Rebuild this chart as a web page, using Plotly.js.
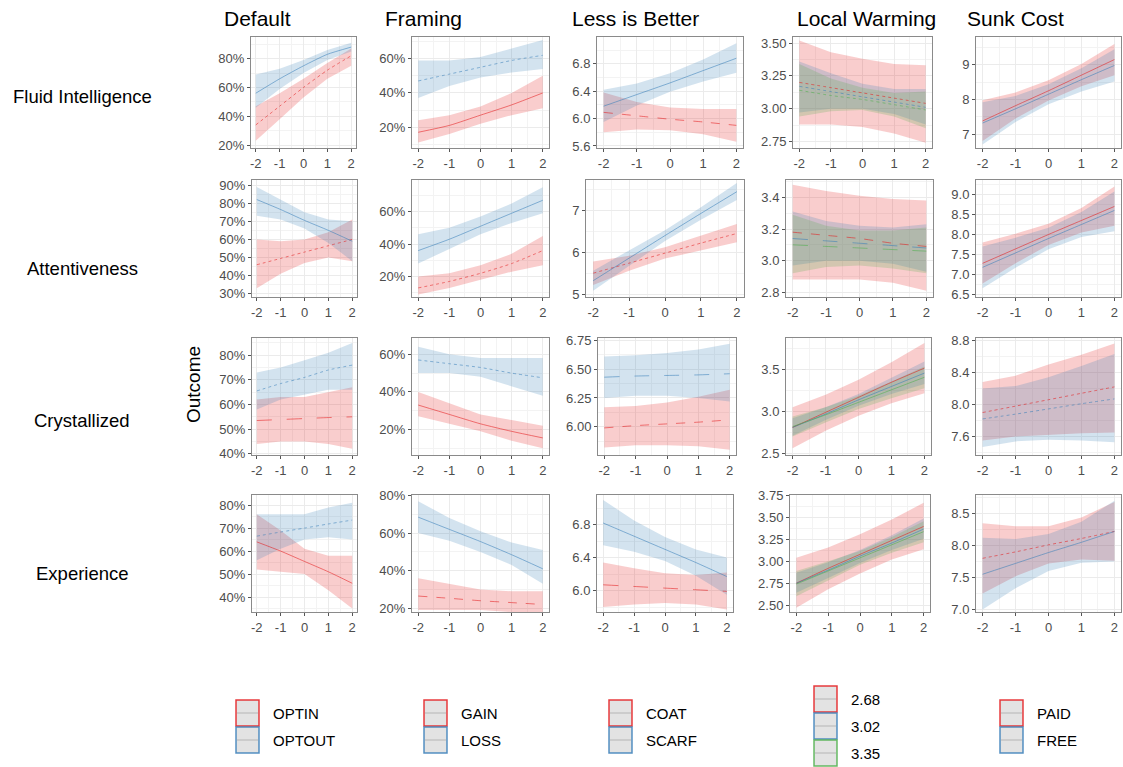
<!DOCTYPE html>
<html><head><meta charset="utf-8">
<script src="https://cdn.plot.ly/plotly-3.0.1.min.js"></script>
<style>body{margin:0;background:#fff}#chart{width:1123px;height:767px}</style>
</head><body><div id="chart"></div>
<script>
const W = 1123, H = 767;
const xvals = [-2, -1, 0, 1, 2];
const xTickText = ['-2', '-1', '0', '1', '2'];
const columns = ['Default', 'Framing', 'Less is Better', 'Local Warming', 'Sunk Cost'];
const rowNames = ['Fluid Intelligence', 'Attentiveness', 'Crystallized', 'Experience'];
const yTitle = 'Outcome';
const groupsDefault = ['OPTIN', 'OPTOUT'];
const groupsFraming = ['GAIN', 'LOSS'];
const groupsLess = ['COAT', 'SCARF'];
const groupsLocal = ['2.68', '3.02', '3.35'];
const groupsSunk = ['PAID', 'FREE'];

// ---- Fluid Intelligence ----
const fi_def_optin    = [0.34, 0.47, 0.60, 0.72, 0.82];
const fi_def_optin_lo = [0.23, 0.38, 0.53, 0.66, 0.75];
const fi_def_optin_hi = [0.47, 0.56, 0.66, 0.77, 0.87];
const fi_def_optout    = [0.56, 0.66, 0.75, 0.83, 0.88];
const fi_def_optout_lo = [0.46, 0.59, 0.70, 0.79, 0.85];
const fi_def_optout_hi = [0.69, 0.73, 0.79, 0.86, 0.91];

const fi_fra_gain    = [0.17, 0.21, 0.27, 0.33, 0.40];
const fi_fra_gain_lo = [0.11, 0.16, 0.22, 0.27, 0.31];
const fi_fra_gain_hi = [0.24, 0.27, 0.32, 0.40, 0.50];
const fi_fra_loss    = [0.47, 0.51, 0.55, 0.59, 0.62];
const fi_fra_loss_lo = [0.37, 0.44, 0.49, 0.52, 0.54];
const fi_fra_loss_hi = [0.59, 0.59, 0.61, 0.66, 0.71];

const fi_les_coat    = [6.09, 6.04, 5.99, 5.95, 5.90];
const fi_les_coat_lo = [5.80, 5.84, 5.83, 5.77, 5.66];
const fi_les_coat_hi = [6.38, 6.24, 6.16, 6.14, 6.14];
const fi_les_scarf    = [6.18, 6.35, 6.52, 6.70, 6.88];
const fi_les_scarf_lo = [5.95, 6.19, 6.39, 6.54, 6.67];
const fi_les_scarf_hi = [6.42, 6.51, 6.66, 6.86, 7.10];

const fi_loc_268    = [3.20, 3.16, 3.12, 3.08, 3.04];
const fi_loc_268_lo = [2.88, 2.88, 2.86, 2.81, 2.74];
const fi_loc_268_hi = [3.52, 3.43, 3.38, 3.34, 3.33];
const fi_loc_302    = [3.17, 3.13, 3.09, 3.05, 3.01];
const fi_loc_302_lo = [2.97, 3.00, 3.00, 2.96, 2.88];
const fi_loc_302_hi = [3.36, 3.27, 3.19, 3.15, 3.15];
const fi_loc_335    = [3.14, 3.10, 3.07, 3.03, 2.99];
const fi_loc_335_lo = [2.94, 2.98, 2.99, 2.94, 2.85];
const fi_loc_335_hi = [3.34, 3.23, 3.16, 3.12, 3.13];

const fi_sun_paid    = [7.38, 7.82, 8.25, 8.70, 9.15];
const fi_sun_paid_lo = [6.80, 7.45, 7.97, 8.38, 8.70];
const fi_sun_paid_hi = [7.98, 8.20, 8.55, 9.02, 9.60];
const fi_sun_free    = [7.32, 7.73, 8.15, 8.57, 8.98];
const fi_sun_free_lo = [6.70, 7.35, 7.86, 8.23, 8.52];
const fi_sun_free_hi = [7.92, 8.10, 8.44, 8.90, 9.45];

// ---- Attentiveness ----
const at_def_optin    = [0.46, 0.495, 0.53, 0.565, 0.60];
const at_def_optin_lo = [0.33, 0.41, 0.47, 0.50, 0.48];
const at_def_optin_hi = [0.60, 0.59, 0.60, 0.64, 0.71];
const at_def_optout    = [0.82, 0.765, 0.705, 0.65, 0.59];
const at_def_optout_lo = [0.73, 0.71, 0.66, 0.58, 0.48];
const at_def_optout_hi = [0.89, 0.82, 0.75, 0.71, 0.70];

const at_fra_gain    = [0.13, 0.17, 0.22, 0.28, 0.36];
const at_fra_gain_lo = [0.09, 0.13, 0.18, 0.23, 0.27];
const at_fra_gain_hi = [0.20, 0.22, 0.27, 0.34, 0.45];
const at_fra_loss    = [0.36, 0.43, 0.51, 0.59, 0.67];
const at_fra_loss_lo = [0.28, 0.37, 0.46, 0.53, 0.59];
const at_fra_loss_hi = [0.46, 0.50, 0.57, 0.65, 0.75];

const at_les_coat    = [5.50, 5.74, 5.98, 6.22, 6.45];
const at_les_coat_lo = [5.22, 5.56, 5.85, 6.05, 6.24];
const at_les_coat_hi = [5.78, 5.92, 6.12, 6.40, 6.68];
const at_les_scarf    = [5.32, 5.86, 6.40, 6.93, 7.45];
const at_les_scarf_lo = [5.08, 5.67, 6.27, 6.78, 7.25];
const at_les_scarf_hi = [5.56, 6.04, 6.53, 7.08, 7.66];

const at_loc_268    = [3.18, 3.16, 3.14, 3.11, 3.09];
const at_loc_268_lo = [2.88, 2.88, 2.88, 2.86, 2.81];
const at_loc_268_hi = [3.48, 3.44, 3.41, 3.39, 3.38];
const at_loc_302    = [3.14, 3.125, 3.11, 3.095, 3.08];
const at_loc_302_lo = [2.97, 3.00, 3.00, 2.98, 2.93];
const at_loc_302_hi = [3.31, 3.25, 3.22, 3.21, 3.23];
const at_loc_335    = [3.10, 3.09, 3.08, 3.07, 3.06];
const at_loc_335_lo = [2.92, 2.96, 2.97, 2.95, 2.92];
const at_loc_335_hi = [3.29, 3.22, 3.19, 3.19, 3.21];

const at_sun_paid    = [7.28, 7.64, 8.00, 8.35, 8.70];
const at_sun_paid_lo = [6.78, 7.28, 7.74, 8.05, 8.22];
const at_sun_paid_hi = [7.80, 8.02, 8.27, 8.66, 9.20];
const at_sun_free    = [7.18, 7.54, 7.90, 8.25, 8.60];
const at_sun_free_lo = [6.66, 7.17, 7.63, 7.94, 8.08];
const at_sun_free_hi = [7.70, 7.92, 8.17, 8.56, 9.07];

// ---- Crystallized ----
const cr_def_optin    = [0.535, 0.539, 0.543, 0.547, 0.55];
const cr_def_optin_lo = [0.44, 0.45, 0.45, 0.44, 0.42];
const cr_def_optin_hi = [0.62, 0.63, 0.63, 0.65, 0.67];
const cr_def_optout    = [0.655, 0.685, 0.71, 0.74, 0.76];
const cr_def_optout_lo = [0.58, 0.62, 0.64, 0.66, 0.66];
const cr_def_optout_hi = [0.73, 0.75, 0.78, 0.81, 0.85];

const cr_fra_gain    = [0.33, 0.28, 0.23, 0.19, 0.155];
const cr_fra_gain_lo = [0.27, 0.23, 0.19, 0.14, 0.10];
const cr_fra_gain_hi = [0.40, 0.34, 0.28, 0.25, 0.22];
const cr_fra_loss    = [0.57, 0.55, 0.53, 0.50, 0.475];
const cr_fra_loss_lo = [0.50, 0.50, 0.48, 0.43, 0.38];
const cr_fra_loss_hi = [0.64, 0.60, 0.58, 0.58, 0.58];

const cr_les_coat    = [5.99, 6.01, 6.025, 6.04, 6.06];
const cr_les_coat_lo = [5.82, 5.84, 5.84, 5.83, 5.80];
const cr_les_coat_hi = [6.17, 6.18, 6.21, 6.26, 6.32];
const cr_les_scarf    = [6.43, 6.44, 6.445, 6.45, 6.46];
const cr_les_scarf_lo = [6.25, 6.27, 6.27, 6.25, 6.22];
const cr_les_scarf_hi = [6.61, 6.62, 6.64, 6.67, 6.72];

const cr_loc_268    = [2.81, 2.99, 3.17, 3.35, 3.52];
const cr_loc_268_lo = [2.56, 2.77, 2.95, 3.10, 3.22];
const cr_loc_268_hi = [3.05, 3.20, 3.38, 3.59, 3.82];
const cr_loc_302    = [2.81, 2.97, 3.14, 3.30, 3.46];
const cr_loc_302_lo = [2.71, 2.90, 3.07, 3.21, 3.33];
const cr_loc_302_hi = [2.92, 3.05, 3.21, 3.40, 3.60];
const cr_loc_335    = [2.82, 2.96, 3.11, 3.26, 3.41];
const cr_loc_335_lo = [2.70, 2.87, 3.03, 3.16, 3.28];
const cr_loc_335_hi = [2.94, 3.05, 3.19, 3.36, 3.54];

const cr_sun_paid    = [7.90, 7.98, 8.06, 8.14, 8.22];
const cr_sun_paid_lo = [7.55, 7.60, 7.62, 7.64, 7.65];
const cr_sun_paid_hi = [8.28, 8.36, 8.50, 8.62, 8.76];
const cr_sun_free    = [7.82, 7.88, 7.945, 8.01, 8.07];
const cr_sun_free_lo = [7.47, 7.54, 7.56, 7.55, 7.53];
const cr_sun_free_hi = [8.20, 8.23, 8.34, 8.48, 8.63];

// ---- Experience ----
const ex_def_optin    = [0.64, 0.60, 0.555, 0.51, 0.46];
const ex_def_optin_lo = [0.52, 0.51, 0.50, 0.43, 0.35];
const ex_def_optin_hi = [0.76, 0.69, 0.61, 0.58, 0.58];
const ex_def_optout    = [0.665, 0.683, 0.70, 0.718, 0.735];
const ex_def_optout_lo = [0.56, 0.61, 0.65, 0.66, 0.65];
const ex_def_optout_hi = [0.76, 0.76, 0.76, 0.79, 0.81];

const ex_fra_gain    = [0.265, 0.253, 0.24, 0.23, 0.22];
const ex_fra_gain_lo = [0.19, 0.19, 0.19, 0.18, 0.16];
const ex_fra_gain_hi = [0.36, 0.33, 0.30, 0.29, 0.29];
const ex_fra_loss    = [0.685, 0.62, 0.555, 0.485, 0.41];
const ex_fra_loss_lo = [0.60, 0.56, 0.50, 0.43, 0.33];
const ex_fra_loss_hi = [0.77, 0.68, 0.61, 0.55, 0.51];

const ex_les_coat    = [6.07, 6.05, 6.03, 6.01, 5.99];
const ex_les_coat_lo = [5.80, 5.83, 5.85, 5.83, 5.77];
const ex_les_coat_hi = [6.34, 6.27, 6.21, 6.19, 6.22];
const ex_les_scarf    = [6.82, 6.66, 6.50, 6.34, 6.17];
const ex_les_scarf_lo = [6.55, 6.47, 6.36, 6.18, 5.95];
const ex_les_scarf_hi = [7.10, 6.85, 6.65, 6.50, 6.40];

const ex_loc_268    = [2.75, 2.92, 3.08, 3.24, 3.40];
const ex_loc_268_lo = [2.47, 2.68, 2.86, 3.02, 3.14];
const ex_loc_268_hi = [3.04, 3.16, 3.31, 3.48, 3.67];
const ex_loc_302    = [2.75, 2.90, 3.06, 3.21, 3.37];
const ex_loc_302_lo = [2.64, 2.81, 2.98, 3.13, 3.26];
const ex_loc_302_hi = [2.87, 2.99, 3.13, 3.30, 3.49];
const ex_loc_335    = [2.74, 2.89, 3.04, 3.19, 3.34];
const ex_loc_335_lo = [2.60, 2.78, 2.96, 3.10, 3.22];
const ex_loc_335_hi = [2.89, 3.00, 3.12, 3.28, 3.46];

const ex_sun_paid    = [7.80, 7.90, 8.01, 8.11, 8.22];
const ex_sun_paid_lo = [7.25, 7.52, 7.72, 7.78, 7.76];
const ex_sun_paid_hi = [8.35, 8.30, 8.30, 8.44, 8.68];
const ex_sun_free    = [7.55, 7.72, 7.89, 8.05, 8.22];
const ex_sun_free_lo = [7.00, 7.33, 7.60, 7.73, 7.75];
const ex_sun_free_hi = [8.12, 8.10, 8.18, 8.37, 8.70];

// ---------- styling / layout ----------
const COLORS = {red: [228, 26, 28], blue: [55, 126, 184], green: [77, 175, 74]};
const rgba = (c, a) => `rgba(${COLORS[c][0]},${COLORS[c][1]},${COLORS[c][2]},${a})`;
const S = (name, color, dash, m, lo, hi) => ({name, color, dash, m, lo, hi});

const rowBox = [[37, 148], [180, 297], [338, 455], [495, 612]];
const colBox = [
  [[251, 356], [412, 549], [597, 743], [793, 932], [976, 1121]],
  [[252, 357], [412, 549], [586, 744], [786, 933], [976, 1121]],
  [[252, 357], [412, 549], [598, 736], [786, 931], [976, 1121]],
  [[252, 357], [412, 549], [597, 733], [790, 930], [976, 1121]]
];

const panels = [
  // row 0
  {r:0,c:0, range:[0.18,0.95], tick0:0, dtick:0.2, fmt:'.0%', series:[
    S('OPTIN','red','dot',fi_def_optin,fi_def_optin_lo,fi_def_optin_hi),
    S('OPTOUT','blue','solid',fi_def_optout,fi_def_optout_lo,fi_def_optout_hi)]},
  {r:0,c:1, range:[0.078,0.727], tick0:0, dtick:0.2, fmt:'.0%', series:[
    S('GAIN','red','solid',fi_fra_gain,fi_fra_gain_lo,fi_fra_gain_hi),
    S('LOSS','blue','dot',fi_fra_loss,fi_fra_loss_lo,fi_fra_loss_hi)]},
  {r:0,c:2, range:[5.57,7.19], tick0:5.6, dtick:0.4, fmt:'.1f', series:[
    S('COAT','red','dash',fi_les_coat,fi_les_coat_lo,fi_les_coat_hi),
    S('SCARF','blue','solid',fi_les_scarf,fi_les_scarf_lo,fi_les_scarf_hi)]},
  {r:0,c:3, range:[2.70,3.546], tick0:2.75, dtick:0.25, fmt:'.2f', series:[
    S('2.68','red','dot',fi_loc_268,fi_loc_268_lo,fi_loc_268_hi),
    S('3.02','blue','dot',fi_loc_302,fi_loc_302_lo,fi_loc_302_hi),
    S('3.35','green','dot',fi_loc_335,fi_loc_335_lo,fi_loc_335_hi)]},
  {r:0,c:4, range:[6.6,9.8], tick0:7, dtick:1, fmt:'d', series:[
    S('PAID','red','solid',fi_sun_paid,fi_sun_paid_lo,fi_sun_paid_hi),
    S('FREE','blue','solid',fi_sun_free,fi_sun_free_lo,fi_sun_free_hi)]},
  // row 1
  {r:1,c:0, range:[0.282,0.928], tick0:0, dtick:0.1, fmt:'.0%', series:[
    S('OPTIN','red','dot',at_def_optin,at_def_optin_lo,at_def_optin_hi),
    S('OPTOUT','blue','solid',at_def_optout,at_def_optout_lo,at_def_optout_hi)]},
  {r:1,c:1, range:[0.074,0.795], tick0:0, dtick:0.2, fmt:'.0%', series:[
    S('GAIN','red','dot',at_fra_gain,at_fra_gain_lo,at_fra_gain_hi),
    S('LOSS','blue','solid',at_fra_loss,at_fra_loss_lo,at_fra_loss_hi)]},
  {r:1,c:2, range:[4.93,7.73], tick0:5, dtick:1, fmt:'d', series:[
    S('COAT','red','dot',at_les_coat,at_les_coat_lo,at_les_coat_hi),
    S('SCARF','blue','solid',at_les_scarf,at_les_scarf_lo,at_les_scarf_hi)]},
  {r:1,c:3, range:[2.77,3.51], tick0:2.8, dtick:0.2, fmt:'.1f', series:[
    S('2.68','red','dash',at_loc_268,at_loc_268_lo,at_loc_268_hi),
    S('3.02','blue','longdash',at_loc_302,at_loc_302_lo,at_loc_302_hi),
    S('3.35','green','longdash',at_loc_335,at_loc_335_lo,at_loc_335_hi)]},
  {r:1,c:4, range:[6.44,9.36], tick0:6.5, dtick:0.5, fmt:'.1f', series:[
    S('PAID','red','solid',at_sun_paid,at_sun_paid_lo,at_sun_paid_hi),
    S('FREE','blue','solid',at_sun_free,at_sun_free_lo,at_sun_free_hi)]},
  // row 2
  {r:2,c:0, range:[0.395,0.87], tick0:0, dtick:0.1, fmt:'.0%', series:[
    S('OPTIN','red','longdash',cr_def_optin,cr_def_optin_lo,cr_def_optin_hi),
    S('OPTOUT','blue','dot',cr_def_optout,cr_def_optout_lo,cr_def_optout_hi)]},
  {r:2,c:1, range:[0.064,0.687], tick0:0, dtick:0.2, fmt:'.0%', series:[
    S('GAIN','red','solid',cr_fra_gain,cr_fra_gain_lo,cr_fra_gain_hi),
    S('LOSS','blue','dot',cr_fra_loss,cr_fra_loss_lo,cr_fra_loss_hi)]},
  {r:2,c:2, range:[5.755,6.77], tick0:6, dtick:0.25, fmt:'.2f', series:[
    S('COAT','red','dash',cr_les_coat,cr_les_coat_lo,cr_les_coat_hi),
    S('SCARF','blue','longdash',cr_les_scarf,cr_les_scarf_lo,cr_les_scarf_hi)]},
  {r:2,c:3, range:[2.48,3.88], tick0:2.5, dtick:0.5, fmt:'.1f', series:[
    S('2.68','red','solid',cr_loc_268,cr_loc_268_lo,cr_loc_268_hi),
    S('3.02','blue','solid',cr_loc_302,cr_loc_302_lo,cr_loc_302_hi),
    S('3.35','green','solid',cr_loc_335,cr_loc_335_lo,cr_loc_335_hi)]},
  {r:2,c:4, range:[7.37,8.83], tick0:7.6, dtick:0.4, fmt:'.1f', series:[
    S('PAID','red','dot',cr_sun_paid,cr_sun_paid_lo,cr_sun_paid_hi),
    S('FREE','blue','dot',cr_sun_free,cr_sun_free_lo,cr_sun_free_hi)]},
  // row 3
  {r:3,c:0, range:[0.335,0.844], tick0:0, dtick:0.1, fmt:'.0%', series:[
    S('OPTIN','red','solid',ex_def_optin,ex_def_optin_lo,ex_def_optin_hi),
    S('OPTOUT','blue','dot',ex_def_optout,ex_def_optout_lo,ex_def_optout_hi)]},
  {r:3,c:1, range:[0.18,0.803], tick0:0, dtick:0.2, fmt:'.0%', series:[
    S('GAIN','red','dash',ex_fra_gain,ex_fra_gain_lo,ex_fra_gain_hi),
    S('LOSS','blue','solid',ex_fra_loss,ex_fra_loss_lo,ex_fra_loss_hi)]},
  {r:3,c:2, range:[5.74,7.16], tick0:6, dtick:0.4, fmt:'.1f', series:[
    S('COAT','red','longdash',ex_les_coat,ex_les_coat_lo,ex_les_coat_hi),
    S('SCARF','blue','solid',ex_les_scarf,ex_les_scarf_lo,ex_les_scarf_hi)]},
  {r:3,c:3, range:[2.42,3.76], tick0:2.5, dtick:0.25, fmt:'.2f', series:[
    S('2.68','red','solid',ex_loc_268,ex_loc_268_lo,ex_loc_268_hi),
    S('3.02','blue','solid',ex_loc_302,ex_loc_302_lo,ex_loc_302_hi),
    S('3.35','green','solid',ex_loc_335,ex_loc_335_lo,ex_loc_335_hi)]},
  {r:3,c:4, range:[6.96,8.79], tick0:7, dtick:0.5, fmt:'.1f', series:[
    S('PAID','red','dot',ex_sun_paid,ex_sun_paid_lo,ex_sun_paid_hi),
    S('FREE','blue','solid',ex_sun_free,ex_sun_free_lo,ex_sun_free_hi)]}
];

const FONT = 'Liberation Sans, Arial, Helvetica, sans-serif';
const traces = [];
const layout = {
  width: W, height: H, autosize: false,
  margin: {l: 0, r: 0, t: 0, b: 0},
  paper_bgcolor: '#fff', plot_bgcolor: '#fff',
  showlegend: false,
  font: {family: FONT},
  annotations: [], shapes: []
};
const xMinor = xvals.slice(0, -1).map((v, i) => (v + xvals[i + 1]) / 2);

panels.forEach((p, i) => {
  const n = i + 1;
  const xa = n === 1 ? 'x' : 'x' + n, ya = n === 1 ? 'y' : 'y' + n;
  p.series.forEach(s => {
    traces.push({
      type: 'scatter', mode: 'lines', xaxis: xa, yaxis: ya, hoverinfo: 'skip',
      x: xvals.concat(xvals.slice().reverse()),
      y: s.hi.concat(s.lo.slice().reverse()),
      fill: 'toself', fillcolor: rgba(s.color, 0.22), line: {width: 0}
    });
  });
  p.series.forEach(s => {
    traces.push({
      type: 'scatter', mode: 'lines', xaxis: xa, yaxis: ya, name: s.name,
      x: xvals, y: s.m, line: {color: rgba(s.color, 0.55), width: 1, dash: s.dash, shape: 'spline', smoothing: 0.6}
    });
  });
  const cb = colBox[p.r][p.c], rb = rowBox[p.r];
  const common = {
    showline: true, mirror: true, linecolor: '#8a8a8a', linewidth: 1,
    ticks: 'outside', ticklen: 3, tickwidth: 1, tickcolor: '#555',
    tickfont: {family: FONT, size: 13, color: '#4d4d4d'},
    showgrid: true, gridcolor: '#ebebeb', gridwidth: 1, zeroline: false, fixedrange: true
  };
  layout[n === 1 ? 'xaxis' : 'xaxis' + n] = Object.assign({}, common, {
    domain: [cb[0] / W, cb[1] / W], anchor: ya, range: [-2.2, 2.2],
    tickmode: 'array', tickvals: xvals, ticktext: xTickText,
    minor: {tickmode: 'array', tickvals: xMinor, showgrid: true, gridcolor: '#f3f3f3', ticks: ''}
  });
  layout[n === 1 ? 'yaxis' : 'yaxis' + n] = Object.assign({}, common, {
    domain: [1 - rb[1] / H, 1 - rb[0] / H], anchor: xa, range: p.range,
    tickmode: 'linear', tick0: p.tick0, dtick: p.dtick, tickformat: p.fmt,
    minor: {dtick: p.dtick / 2, showgrid: true, gridcolor: '#f3f3f3', ticks: ''}
  });
});

// column titles
const titleX = [222, 383, 570, 795, 965];
columns.forEach((t, i) => layout.annotations.push({
  text: t, xref: 'paper', yref: 'paper', x: titleX[i] / W, y: 1 - 18 / H,
  xanchor: 'left', yanchor: 'middle', showarrow: false,
  font: {family: FONT, size: 21, color: '#000'}
}));
// row labels
const rowY = [97, 268, 420, 573];
rowNames.forEach((t, i) => layout.annotations.push({
  text: t, xref: 'paper', yref: 'paper', x: 82 / W, y: 1 - rowY[i] / H,
  xanchor: 'center', yanchor: 'middle', showarrow: false,
  font: {family: FONT, size: 18.5, color: '#000'}
}));
layout.annotations.push({
  text: yTitle, xref: 'paper', yref: 'paper', x: 193 / W, y: 1 - 385 / H,
  xanchor: 'center', yanchor: 'middle', showarrow: false, textangle: -90,
  font: {family: FONT, size: 19, color: '#000'}
});

// legends (bottom)
const legendSets = [
  {labels: groupsDefault, colors: ['red', 'blue'], x: 236, top: 700},
  {labels: groupsFraming, colors: ['red', 'blue'], x: 424, top: 700},
  {labels: groupsLess, colors: ['red', 'blue'], x: 609, top: 700},
  {labels: groupsLocal, colors: ['red', 'blue', 'green'], x: 814, top: 686},
  {labels: groupsSunk, colors: ['red', 'blue'], x: 1000, top: 700}
];
const KW = 23, KH = 27;
legendSets.forEach(L => {
  L.labels.forEach((lab, j) => {
    const y0 = L.top + j * KH, y1 = y0 + KH - 1;
    layout.shapes.push({
      type: 'rect', xref: 'paper', yref: 'paper',
      x0: L.x / W, x1: (L.x + KW) / W, y0: 1 - y1 / H, y1: 1 - y0 / H,
      fillcolor: '#e3e3e3', line: {color: rgba(L.colors[j], 0.85), width: 1.5}
    });
    layout.shapes.push({
      type: 'line', xref: 'paper', yref: 'paper',
      x0: (L.x + 1) / W, x1: (L.x + KW - 1) / W, y0: 1 - (y0 + y1) / 2 / H, y1: 1 - (y0 + y1) / 2 / H,
      line: {color: '#b5b5b5', width: 1}
    });
    layout.annotations.push({
      text: lab, xref: 'paper', yref: 'paper', x: (L.x + KW + 12) / W, y: 1 - ((y0 + y1) / 2) / H,
      xanchor: 'left', yanchor: 'middle', showarrow: false,
      font: {family: FONT, size: 15, color: '#000'}
    });
  });
});

Plotly.newPlot('chart', traces, layout, {staticPlot: true, displayModeBar: false});
</script></body></html>
